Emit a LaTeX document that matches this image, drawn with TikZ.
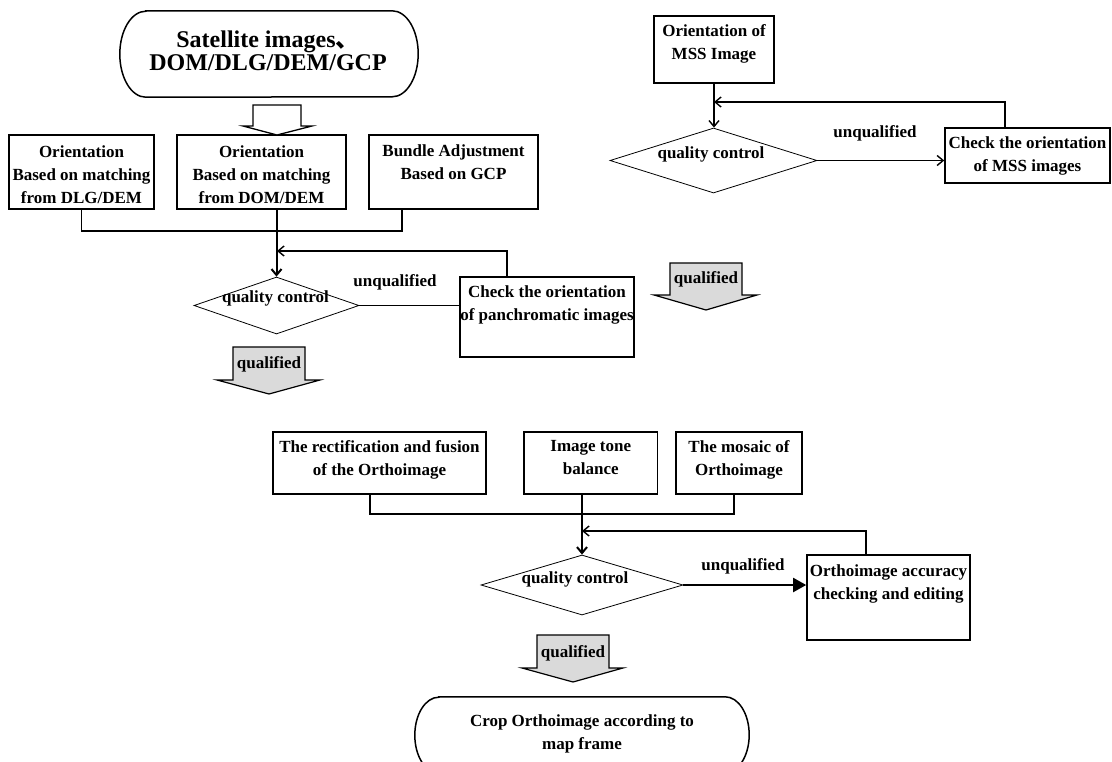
\documentclass[tikz,border=0pt]{standalone}
\usepackage{fontspec}
\setmainfont{Liberation Serif}
\newfontfamily\cjkfont{Noto Sans CJK SC}
\usetikzlibrary{shapes.geometric,arrows.meta,calc}
\definecolor{qgray}{RGB}{218,218,218}

\begin{document}
\begin{tikzpicture}[x=1pt,y=-1pt,
  font=\fontsize{17}{23}\selectfont\bfseries,
  box/.style={draw, rectangle, line width=1.6pt, inner sep=0pt},
  txt/.style={align=center, inner sep=0pt, anchor=north},
  lbl/.style={inner sep=0pt},
  dia/.style={draw, diamond, line width=0.8pt, inner sep=0pt},
  link/.style={line width=1.4pt},
  barb/.style={-{Straight Barb[length=6pt,width=10pt]}},
  term/.style={draw, line width=1.5pt},
  frame/.style={inner sep=0pt},
  qarrow/.style={draw, line width=1.2pt, fill=qgray, line join=miter},
  harrow/.style={draw, line width=1.3pt, fill=white, line join=miter},
]
\useasboundingbox (0,0) rectangle (1112,761);
\clip (0,0) rectangle (1112,761);

% ---------- panchromatic orientation ----------
\node[frame, minimum width=298pt, minimum height=86pt] (src) at (269,54) {};
\draw[term] ([xshift=26pt]src.north west) -- ([xshift=-26pt]src.north east)
  arc[start angle=90, end angle=-90, x radius=26pt, y radius=43pt]
  -- ([xshift=26pt]src.south west)
  arc[start angle=270, end angle=90, x radius=26pt, y radius=43pt] -- cycle;
\node[lbl, align=center, font=\fontsize{24}{23.5}\selectfont\bfseries] (srct) at (268,51)
  {Satellite images{\cjkfont 、}\\DOM/DLG/DEM/GCP};

\node[box, minimum width=145pt, minimum height=74pt] (b1) at (81.5,172) {};
\node[txt] (b1t) at ([yshift=-11pt]b1.north) {Orientation\\Based on matching\\from DLG/DEM};
\node[box, minimum width=169pt, minimum height=74pt] (b2) at (261.5,172) {};
\node[txt] (b2t) at ([yshift=-11pt]b2.north) {Orientation\\Based on matching\\from DOM/DEM};
\node[box, minimum width=169pt, minimum height=74pt] (b3) at (453.5,172) {};
\node[txt] (b3t) at ([yshift=-10pt]b3.north) {Bundle Adjustment\\Based on GCP};

% hollow arrow from the sources to the orientation methods
\draw[harrow] (253,105) -- (301,105) -- (301,126) -- (312,126) -- (277,135)
  -- (243,126) -- (253,126) -- cycle;

\node[dia, minimum width=165pt, minimum height=57pt] (d1) at (276.5,305.5) {};
\node[lbl] (d1t) at (275.5,298) {quality control};
\node[box, minimum width=174pt, minimum height=80pt] (c1) at (547,317) {};
\node[txt] (c1t) at ([yshift=-9pt]c1.north) {Check the orientation\\of panchromatic images};

\coordinate (b3o) at (402,209);
\coordinate (jn1) at (277,231);
\draw[link] (b1.south) |- (jn1) -| (b3o);
\draw[link, line width=2pt, barb] (b2.south -| d1.north) -- (d1.north);
\coordinate (c1o) at (507,277);
\coordinate (fb1) at (277,251);
\draw[link, barb] (c1o) |- (fb1);
\draw[link, line width=1.2pt] (d1.east) -- (d1.east -| c1.west);
\node[lbl] (u1) at (395,282) {unqualified};

\draw[qarrow] (233,347) -- (305,347) -- (305,380) -- (320,380) -- (269,394)
  -- (217,380) -- (233,380) -- cycle;
\node[lbl] (q1t) at (269,364) {qualified};

% ---------- multispectral orientation ----------
\node[box, minimum width=120pt, minimum height=67pt] (m1) at (714,49.5) {};
\node[txt] (m1t) at ([yshift=-9pt]m1.north) {Orientation of\\MSS Image};
\node[dia, minimum width=207pt, minimum height=65pt] (d2) at (713.5,160.5) {};
\node[lbl] (d2t) at (711,154) {quality control};
\node[box, minimum width=165pt, minimum height=55pt] (m2) at (1027.5,155.5) {};
\node[txt] (m2t) at ([yshift=-9pt]m2.north) {Check the orientation\\of MSS images};

\draw[link, barb] (m1.south) -- (m1.south |- d2.north);
\draw[link, barb] (d2.east) -- (d2.east -| m2.west);
\coordinate (m2o) at (1005,128);
\coordinate (fb2) at (714,102);
\draw[link, barb] (m2o) |- (fb2);
\node[lbl] (u2) at (875,133) {unqualified};

\draw[qarrow] (670,263) -- (742,263) -- (742,295) -- (757,295) -- (706,310)
  -- (654,295) -- (670,295) -- cycle;
\node[lbl] (q2t) at (706,279) {qualified};

% ---------- orthoimage production ----------
\node[box, minimum width=213pt, minimum height=62pt] (r1) at (379.5,463) {};
\node[txt] (r1t) at ([yshift=-9pt]r1.north) {The rectification and fusion\\of the Orthoimage};
\node[box, minimum width=133.5pt, minimum height=62pt] (r2) at (590.75,463) {};
\node[txt] (r2t) at ([yshift=-9pt]r2.north) {Image tone\\balance};
\node[box, minimum width=126pt, minimum height=62pt] (r3) at (739,463) {};
\node[txt] (r3t) at ([yshift=-9pt]r3.north) {The mosaic of\\Orthoimage};

\node[dia, minimum width=202pt, minimum height=60pt] (d3) at (582,585) {};
\node[lbl] (d3t) at (575,579) {quality control};
\node[box, minimum width=163pt, minimum height=85pt] (r4) at (888.5,597.5) {};
\node[txt] (r4t) at ([yshift=-10pt]r4.north) {Orthoimage accuracy\\checking and editing};

\coordinate (r1o) at (370,494);
\coordinate (r3o) at (734,494);
\coordinate (jn3) at (582,514);
\draw[link] (r1o) |- (jn3) -| (r3o);
\draw[link, line width=2pt, barb] (r2.south -| d3.north) -- (d3.north);
\coordinate (r4o) at (866,555);
\coordinate (fb3) at (582,531);
\draw[link, barb] (r4o) |- (fb3);
\draw[link, line width=2pt, -{Triangle[length=13pt,width=14pt]}] (d3.east) -- (d3.east -| r4.west);
\node[lbl] (u3) at (743,566) {unqualified};

\draw[qarrow] (537,635) -- (609,635) -- (609,668) -- (623,668) -- (573,682)
  -- (522,668) -- (537,668) -- cycle;
\node[lbl] (q3t) at (573,653) {qualified};

\node[frame, minimum width=334pt, minimum height=76pt] (out) at (582,735) {};
\draw[term] ([xshift=24pt]out.north west) -- ([xshift=-24pt]out.north east)
  arc[start angle=90, end angle=-90, x radius=24pt, y radius=38pt]
  -- ([xshift=24pt]out.south west)
  arc[start angle=270, end angle=90, x radius=24pt, y radius=38pt] -- cycle;
\node[txt] (outt) at ([yshift=-18pt]out.north) {Crop Orthoimage according to\\map frame};
\end{tikzpicture}
\end{document}
